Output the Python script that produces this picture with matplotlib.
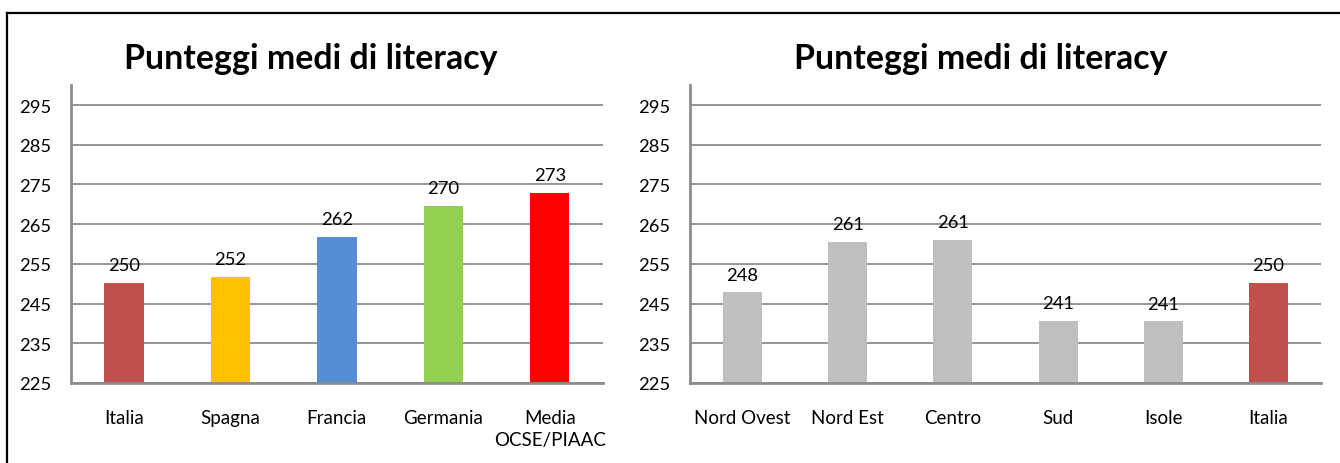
import matplotlib
matplotlib.use("Agg")
import matplotlib.pyplot as plt
from matplotlib.lines import Line2D

plt.rcParams['font.family'] = ['Lato', 'DejaVu Sans']

# ---- data ----
title = "Punteggi medi di literacy"
left_categories = ["Italia", "Spagna", "Francia", "Germania", "Media\nOCSE/PIAAC"]
left_values = [250.3, 251.8, 261.8, 269.6, 272.9]
left_colors = ["#C0504D", "#FFC000", "#558ED5", "#92D050", "#FF0000"]

right_categories = ["Nord Ovest", "Nord Est", "Centro", "Sud", "Isole", "Italia"]
right_values = [247.9, 260.6, 261.1, 240.7, 240.6, 250.2]
right_colors = ["#BFBFBF", "#BFBFBF", "#BFBFBF", "#BFBFBF", "#BFBFBF", "#C0504D"]

y_ticks = [225, 235, 245, 255, 265, 275, 285, 295]
y_min, y_max = 225, 300

W, H = 1340, 464
fig = plt.figure(figsize=(W / 100, H / 100), dpi=100)
fig.patch.set_facecolor("white")

GRID = "#8C8C8C"
SPINE = "#8C8C8C"


def panel(rect, cats, vals, cols, title_x):
    ax = fig.add_axes(rect)
    x = list(range(len(cats)))
    ax.bar(x, vals, width=0.37, color=cols, zorder=3)
    ax.set_xlim(-0.5, len(cats) - 0.5)
    ax.set_ylim(y_min, y_max)
    ax.set_yticks(y_ticks)
    ax.set_yticklabels([str(t) for t in y_ticks], fontsize=13.2, color="#000000")
    ax.set_xticks(x)
    ax.set_xticklabels(cats, fontsize=13.5, color="#000000", linespacing=1.35, va="top")
    ax.tick_params(axis="both", length=0)
    ax.tick_params(axis="y", pad=14)
    ax.tick_params(axis="x", pad=19)
    ax.yaxis.grid(True, color=GRID, linewidth=1.3, zorder=0)
    ax.set_axisbelow(True)
    for s in ["top", "right"]:
        ax.spines[s].set_visible(False)
    for s in ["left", "bottom"]:
        ax.spines[s].set_color(SPINE)
        ax.spines[s].set_linewidth(2.0)
        ax.spines[s].set_zorder(4)
    for xi, v in zip(x, vals):
        ax.annotate(f"{v:.0f}", (xi, v), xytext=(0, 9), textcoords="offset points",
                    ha="center", va="baseline", fontsize=13.2, color="#000000", zorder=5)
    fig.text(title_x / W, 1 - 69 / H, title, ha="center", va="baseline",
             fontsize=24.4, fontweight="bold", color="#000000")
    return ax


bottom = (H - 384) / H
height = (384 - 86.2) / H
panel([70.7 / W, bottom, (603 - 70.7) / W, height], left_categories, left_values, left_colors, 311)
panel([690 / W, bottom, (1321 - 690) / W, height], right_categories, right_values, right_colors, 981)

# outer frame (cropped at right and bottom)
fig.add_artist(Line2D([7 / W, 1.0], [1 - 14 / H, 1 - 14 / H], transform=fig.transFigure,
                      color="#000000", linewidth=1.6))
fig.add_artist(Line2D([7 / W, 7 / W], [1 - 14 / H, 0.0], transform=fig.transFigure,
                      color="#000000", linewidth=1.6))

fig.savefig("out.png", dpi=100, facecolor="white")
